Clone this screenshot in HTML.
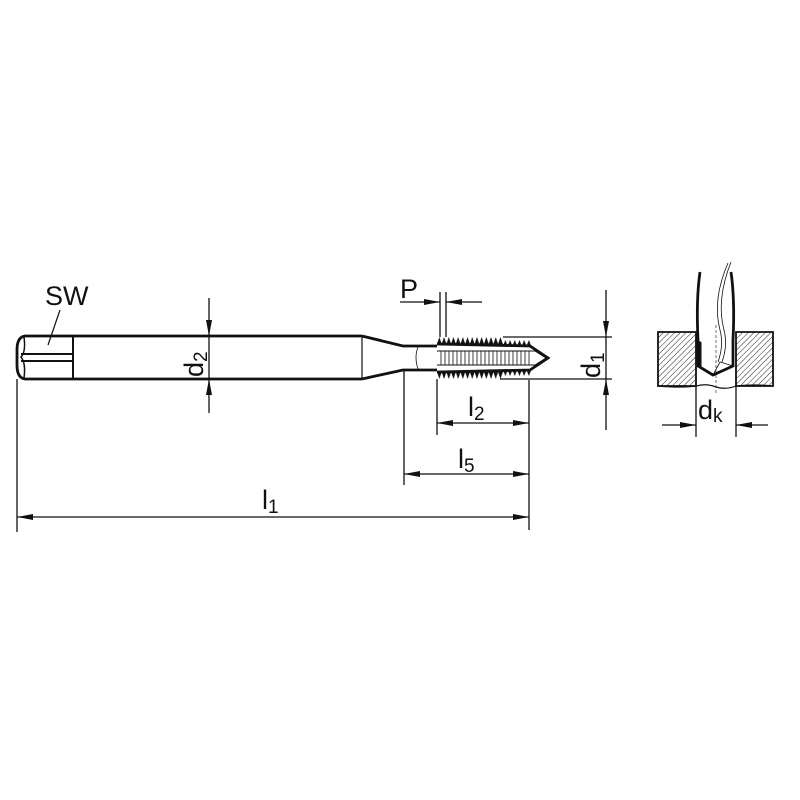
<!DOCTYPE html>
<html><head><meta charset="utf-8"><style>body{margin:0;background:#fff}svg{display:block}text{font-family:"Liberation Sans",sans-serif;fill:#111}</style></head><body>
<svg width="800" height="800" viewBox="0 0 800 800" xmlns="http://www.w3.org/2000/svg">
<defs>
<marker id="a" viewBox="0 0 16 6" refX="16" refY="3" markerWidth="16" markerHeight="6" markerUnits="userSpaceOnUse" orient="auto-start-reverse"><path d="M0,0L16,3L0,6z" fill="#111"/></marker>
<pattern id="tt" x="437" y="337" width="4.7" height="7" patternUnits="userSpaceOnUse"><polygon points="0,7 2.35,0 4.7,7" fill="#111"/></pattern>
<pattern id="tb" x="437" y="372" width="4.7" height="7" patternUnits="userSpaceOnUse"><polygon points="0,0 2.35,7 4.7,0" fill="#111"/></pattern>
<pattern id="tc" x="503" y="340" width="4.7" height="6" patternUnits="userSpaceOnUse"><polygon points="0,6 2.35,0 4.7,6" fill="#111"/></pattern>
<pattern id="td" x="503" y="370" width="4.7" height="6" patternUnits="userSpaceOnUse"><polygon points="0,0 2.35,6 4.7,0" fill="#111"/></pattern>
<pattern id="h" width="4" height="4" patternUnits="userSpaceOnUse" patternTransform="rotate(45)"><line x1="0" y1="0" x2="0" y2="4" stroke="#222" stroke-width="1"/></pattern>
</defs>
<g stroke="#111" fill="none">
<!-- shank -->
<path d="M362,336 L25,336 Q17,337 17,350 L17,365 Q17,378 25,379 L362,379" stroke-width="2.8"/>
<path d="M24,337 Q26,352 21,357 Q26,363 24,378" stroke-width="1.5"/>
<path d="M21,354 L73,354 M21,361 L73,361 M73,336 L73,379" stroke-width="2"/>
<line x1="60" y1="310" x2="48" y2="345" stroke-width="1.2"/>
<!-- taper & neck -->
<path d="M362,336 L403,346 L437,346 M362,379 L403,370 L437,370" stroke-width="2.8"/>
<line x1="362" y1="336" x2="362" y2="379" stroke-width="1.2"/>
<path d="M418,347 Q414,357 418,369" stroke-width="0.8"/>
<!-- thread -->
<rect x="437" y="337" width="66" height="7" fill="url(#tt)" stroke="none"/>
<rect x="437" y="372" width="66" height="7" fill="url(#tb)" stroke="none"/>
<rect x="503" y="340" width="28" height="6" fill="url(#tc)" stroke="none"/>
<rect x="503" y="370" width="28" height="6" fill="url(#td)" stroke="none"/>
<path d="M437,344 L530,346 L548,358 L530,370 L437,372" stroke-width="2.8"/>
<path d="M437,351 L535,351 L546,358 L535,365 L437,365" stroke-width="1"/>
<g stroke-width="0.8"><path d="M441,351v14M445,351v14M449,351v14M453,351v14M457,351v14M461,351v14M465,351v14M469,351v14M473,351v14M477,351v14M481,351v14M485,351v14M489,351v14M493,351v14M497,351v14M501,351v14M505,351v14M509,351v14M513,351v14M517,351v14M521,351v14M525,351v14M529,351v14"/></g>
<!-- extension lines -->
<g stroke-width="1.3">
<line x1="17" y1="379" x2="17" y2="532"/>
<line x1="529" y1="380" x2="529" y2="530"/>
<line x1="404" y1="371" x2="404" y2="485"/>
<line x1="437" y1="379" x2="437" y2="435"/>
<line x1="440" y1="292" x2="440" y2="337"/>
<line x1="446" y1="292" x2="446" y2="337"/>
<line x1="503" y1="337" x2="612" y2="337"/>
<line x1="500" y1="379" x2="612" y2="379"/>
<!-- dims -->
<line x1="17" y1="517" x2="529" y2="517" marker-start="url(#a)" marker-end="url(#a)"/>
<line x1="404" y1="474" x2="529" y2="474" marker-start="url(#a)" marker-end="url(#a)"/>
<line x1="437" y1="423" x2="529" y2="423" marker-start="url(#a)" marker-end="url(#a)"/>
<line x1="400" y1="302" x2="440" y2="302" marker-end="url(#a)"/>
<line x1="482" y1="302" x2="446" y2="302" marker-end="url(#a)"/>
<line x1="209" y1="298" x2="209" y2="336" marker-end="url(#a)"/>
<line x1="209" y1="413" x2="209" y2="379" marker-end="url(#a)"/>
<line x1="209" y1="336" x2="209" y2="379"/>
<line x1="606" y1="290" x2="606" y2="337" marker-end="url(#a)"/>
<line x1="606" y1="430" x2="606" y2="379" marker-end="url(#a)"/>
<line x1="606" y1="337" x2="606" y2="379"/>
</g>
<!-- right: drill & block -->
<path d="M658,332 L696,332 L696,386 L658,386 Z M736,332 L773,332 L773,386 L736,386 Z" fill="url(#h)" stroke-width="1.8"/>
<path d="M658,386 Q680,388 696,386 Q706,383 716,387 Q726,390 736,386 Q755,384 773,386" stroke-width="1.2"/>
<path d="M700,272 Q696,300 698,340 L698,366 L713,375 L733,366 L733,340 Q735,300 731,272" stroke-width="2.8" fill="#fff"/>
<path d="M698,340 L698,366 L701,367 L701,342" fill="#111" stroke-width="1"/>
<path d="M728,263 Q712,300 720,330 Q724,345 718,362 M731,262 Q716,300 724,330 Q728,345 722,362 M713,375 L720,362 L733,366" stroke-width="0.8"/>
<line x1="716" y1="325" x2="716" y2="395" stroke-width="0.6" stroke-dasharray="3,2"/>
<line x1="696" y1="386" x2="696" y2="437" stroke-width="1.3"/>
<line x1="736" y1="386" x2="736" y2="437" stroke-width="1.3"/>
<line x1="662" y1="425" x2="696" y2="425" stroke-width="1.3" marker-end="url(#a)"/>
<line x1="768" y1="425" x2="736" y2="425" stroke-width="1.3" marker-end="url(#a)"/>
</g>
<text x="45" y="305" font-size="27">SW</text>
<text x="400" y="298" font-size="27">P</text>
<text x="468" y="416" font-size="27">l<tspan font-size="19" dy="4">2</tspan></text>
<text x="458" y="468" font-size="27">l<tspan font-size="19" dy="4">5</tspan></text>
<text x="262" y="509" font-size="27">l<tspan font-size="19" dy="4">1</tspan></text>
<text x="698" y="419" font-size="27">d<tspan font-size="19" dy="3">k</tspan></text>
<text transform="translate(203,377) rotate(-90)" font-size="27">d<tspan font-size="19" dy="4">2</tspan></text>
<text transform="translate(600,378) rotate(-90)" font-size="27">d<tspan font-size="19" dy="4">1</tspan></text>
</svg>
</body></html>
